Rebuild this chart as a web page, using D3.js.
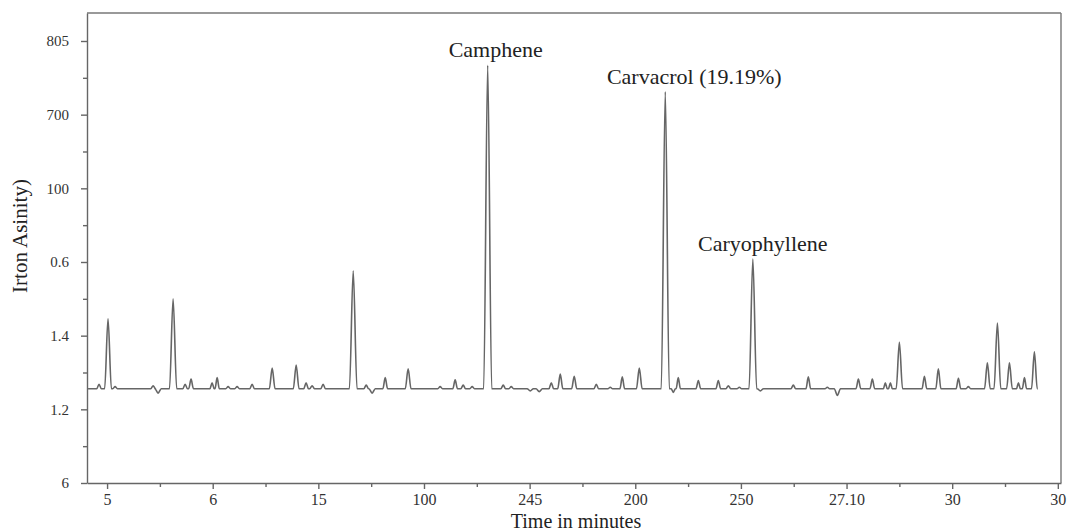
<!DOCTYPE html>
<html>
<head>
<meta charset="utf-8">
<script src="https://cdn.jsdelivr.net/npm/d3@7"></script>
<style>
  body { margin: 0; background: #fff; }
  svg { display: block; }
  .axis path, .axis line { stroke: #666; stroke-width: 1.4; }
  .axis text { font-family: "Liberation Serif", serif; fill: #333; }
  .x.axis text { font-size: 16px; }
  .y.axis text { font-size: 15px; }
</style>
</head>
<body>
<svg id="chart"></svg>
<script>
// tick labels as printed on the original figure
var xTickLabels = ["5", "6", "15", "100", "245", "200", "250", "27.10", "30", "30"];
var yTickLabels = ["6", "1.2", "1.4", "0.6", "100", "700", "805"];

// detector trace: baseline level plus peaks (position in tick units, apex value, half width)
var baseline = 1.28;
var traceStart = -0.18, traceEnd = 8.81;
var peakTime = [-0.076, 0.009, 0.076, 0.436, 0.483, 0.625, 0.739, 0.795, 0.994, 1.042,
    1.146, 1.231, 1.373, 1.563, 1.790, 1.884, 1.941, 2.045, 2.330, 2.453,
    2.509, 2.633, 2.850, 3.153, 3.295, 3.371, 3.456, 3.603, 3.750, 3.826,
    4.006, 4.091, 4.205, 4.290, 4.422, 4.631, 4.763, 4.877, 5.038, 5.284,
    5.360, 5.407, 5.597, 5.786, 5.881, 5.985, 6.113, 6.184, 6.496, 6.638,
    6.818, 6.913, 7.112, 7.244, 7.367, 7.415, 7.500, 7.737, 7.869, 8.059,
    8.153, 8.333, 8.428, 8.542, 8.627, 8.684, 8.778];
var peakValue = [1.34, 2.23, 1.31, 1.32, 1.22, 2.50, 1.34, 1.41, 1.36, 1.43,
    1.31, 1.31, 1.34, 1.56, 1.60, 1.36, 1.32, 1.34, 2.88, 1.33,
    1.22, 1.43, 1.55, 1.31, 1.40, 1.33, 1.31, 5.67, 1.33, 1.31,
    1.25, 1.24, 1.36, 1.48, 1.45, 1.34, 1.30, 1.44, 1.56, 5.31,
    1.23, 1.43, 1.39, 1.39, 1.32, 1.30, 3.04, 1.25, 1.33, 1.44,
    1.30, 1.19, 1.41, 1.41, 1.36, 1.36, 1.91, 1.45, 1.55, 1.42,
    1.31, 1.63, 2.17, 1.63, 1.36, 1.43, 1.78];
var peakWidth = [0.022, 0.032, 0.022, 0.022, 0.03, 0.034, 0.022, 0.022, 0.02, 0.02,
    0.022, 0.022, 0.022, 0.027, 0.027, 0.022, 0.022, 0.022, 0.036, 0.022,
    0.03, 0.022, 0.027, 0.022, 0.022, 0.022, 0.022, 0.038, 0.022, 0.022,
    0.03, 0.03, 0.022, 0.024, 0.024, 0.022, 0.022, 0.022, 0.027, 0.038,
    0.02, 0.02, 0.022, 0.022, 0.022, 0.022, 0.036, 0.03, 0.022, 0.022,
    0.022, 0.03, 0.022, 0.022, 0.018, 0.018, 0.03, 0.022, 0.024, 0.022,
    0.022, 0.027, 0.032, 0.027, 0.018, 0.02, 0.027];

// labelled compounds
var labelNames = ["Camphene", "Carvacrol (19.19%)", "Caryophyllene"];
var labelPeaks = [3.603, 5.284, 6.113];

var size = [1072, 531];
var margin = { top: 13, right: 11, bottom: 48, left: 87 };
var plotW = size[0] - margin.left - margin.right;
var plotH = size[1] - margin.top - margin.bottom;

var xScale = d3.scaleLinear().domain([-0.19, 9.03]).range([0, plotW]);
var yScale = d3.scaleLinear().domain([0, 6.38]).range([plotH, 0]);

var svg = d3.select("#chart").attr("width", size[0]).attr("height", size[1]);
var g = svg.append("g").attr("transform", "translate(" + margin.left + "," + margin.top + ")");

function buildTrace() {
    var pts = [[traceStart, baseline]];
    peakTime.forEach(function(t, i) {
        var w = peakWidth[i];
        pts.push([t - w, baseline], [t, peakValue[i]], [t + w, baseline]);
    });
    pts.push([traceEnd, baseline]);
    return pts;
}

function drawFrame() {
    g.append("line")
        .attr("x1", 0).attr("x2", plotW).attr("y1", 0).attr("y2", 0)
        .attr("stroke", "#777").attr("stroke-width", 1.4);
    g.append("line")
        .attr("x1", plotW).attr("x2", plotW).attr("y1", 0).attr("y2", plotH)
        .attr("stroke", "#777").attr("stroke-width", 1.4);
}

function drawAxes() {
    var xMajor = d3.range(xTickLabels.length);
    var xMinor = d3.range(0.5, 9, 1);
    var yMajor = d3.range(yTickLabels.length);
    var yMinor = d3.range(0.5, 6, 1);

    g.append("g").attr("class", "x axis minor")
        .attr("transform", "translate(0," + plotH + ")")
        .call(d3.axisBottom(xScale).tickValues(xMinor).tickSize(4).tickFormat(""))
        .select(".domain").remove();

    g.append("g").attr("class", "x axis")
        .attr("transform", "translate(0," + plotH + ")")
        .call(d3.axisBottom(xScale).tickValues(xMajor).tickSize(6).tickSizeOuter(0).tickPadding(5)
            .tickFormat(function(d) { return xTickLabels[d]; }));

    g.append("g").attr("class", "y axis minor")
        .call(d3.axisLeft(yScale).tickValues(yMinor).tickSize(4).tickFormat(""))
        .select(".domain").remove();

    g.append("g").attr("class", "y axis")
        .call(d3.axisLeft(yScale).tickValues(yMajor).tickSize(6).tickSizeOuter(0).tickPadding(12)
            .tickFormat(function(d) { return yTickLabels[d]; }));

    svg.append("text")
        .attr("x", 576).attr("y", 528)
        .attr("text-anchor", "middle")
        .style("font-family", "Liberation Serif, serif").style("font-size", "20px").style("fill", "#222")
        .text("Time in minutes");

    svg.append("text")
        .attr("transform", "translate(27,236) rotate(-90)")
        .attr("text-anchor", "middle")
        .style("font-family", "Liberation Serif, serif").style("font-size", "21px").style("fill", "#222")
        .text("Irton Asinity)");
}

function drawTrace() {
    var line = d3.line()
        .curve(d3.curveMonotoneX)
        .x(function(d) { return xScale(d[0]); })
        .y(function(d) { return yScale(d[1]); });
    g.append("path")
        .datum(buildTrace())
        .attr("d", line)
        .attr("fill", "none")
        .attr("stroke", "#666")
        .attr("stroke-width", 1.6)
        .attr("stroke-linejoin", "round");
}

function drawLabels() {
    var offsets = [8, 29, 10];
    g.selectAll("text.peak-label")
        .data(labelNames)
        .enter().append("text")
        .attr("class", "peak-label")
        .attr("x", function(d, i) { return xScale(labelPeaks[i]) + offsets[i]; })
        .attr("y", function(d, i) { return yScale(peakValue[peakTime.indexOf(labelPeaks[i])]) - 8; })
        .attr("text-anchor", "middle")
        .style("font-family", "Liberation Serif, serif")
        .style("font-size", "22px")
        .style("fill", "#222")
        .text(function(d) { return d; });
}

drawFrame();
drawAxes();
drawTrace();
drawLabels();
</script>
</body>
</html>
